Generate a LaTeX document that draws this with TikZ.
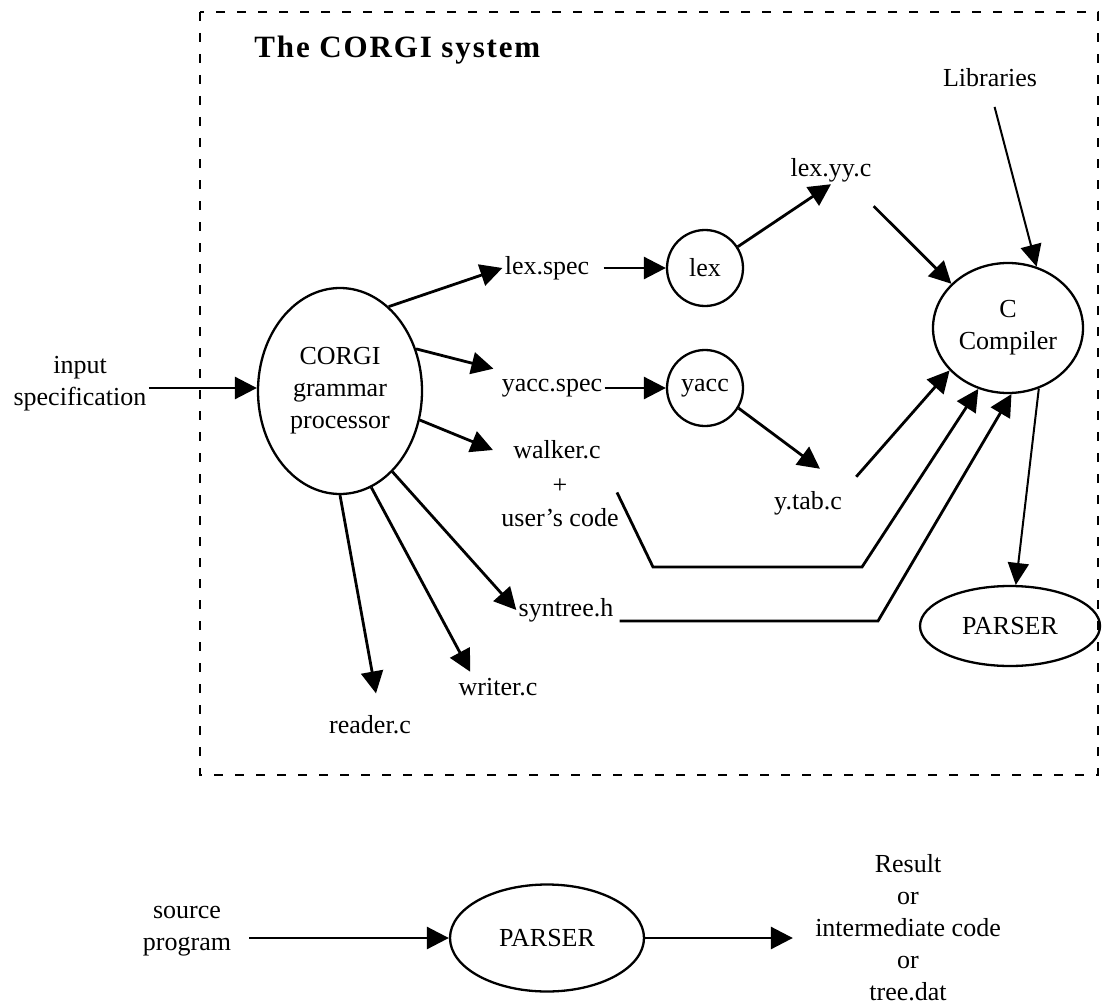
\documentclass[tikz,border=0pt]{standalone}
\usepackage{fontspec}
\setmainfont{Liberation Serif}
\usetikzlibrary{arrows.meta,calc,shapes.geometric}
\begin{document}
\begin{tikzpicture}[x=0.5pt,y=-0.5pt,
  every node/.style={font=\fontsize{13}{16}\selectfont, inner sep=1pt},
  lbl/.style={align=center},
  proc/.style={draw, ellipse, line width=1.15pt, inner sep=0pt, align=center},
  tool/.style={draw, circle, line width=1.15pt, inner sep=0pt, minimum size=38pt},
  arr/.style={line width=1.4pt, -{Triangle[length=11pt,width=11pt]}},
  thinarr/.style={line width=1pt, -{Triangle[length=11pt,width=10.5pt]}},
  boundary/.style={line width=1.4pt, dash pattern=on 4.5pt off 6pt},
]
\useasboundingbox (0,0) rectangle (1108,1006);

% system boundary
\draw[boundary] (200,12) rectangle (1098,775);
\node[anchor=west, font=\fontsize{15.5}{18}\selectfont\bfseries\addfontfeature{LetterSpace=6}] (title) at (252,50) {The CORGI system};

% processors and tools
\node[proc, minimum width=82pt, minimum height=103pt] (corgi) at (340,391) {CORGI\\grammar\\processor};
\node[tool] (lex) at (705,268) {lex};
\node[tool] (yacc) at (705,388) {yacc};
\node[proc, minimum width=75pt, minimum height=65pt] (compiler) at (1008,328) {C\\Compiler};
\node[proc, minimum width=90pt, minimum height=40pt] (parser) at (1010,626) {PARSER};

% files
\node[lbl] (input) at (80,384) {input\\specification};
\node (libs) at (990,78) {Libraries};
\node (lexyy) at (831,170) {lex.yy.c};
\node (lexspec) at (547,268) {lex.spec};
\node (yaccspec) at (552,388) {yacc.spec};
\node (walker) at (557,450) {walker.c};
\node (plus) at (560,486) {+};
\node (usercode) at (560,518) {user's code};
\node (ytab) at (808,503) {y.tab.c};
\node (syntree) at (566,610) {syntree.h};
\node (writer) at (498,687) {writer.c};
\node (reader) at (370,725) {reader.c};

% connectors inside the system
\draw[arr] (input.east |- 0,388) -- (corgi.west |- 0,388);
\draw[arr] (corgi.60) -- (lexspec.west);
\draw[arr] (corgi.29) -- ($(yaccspec.north west)+(-3pt,4pt)$);
\draw[arr] (corgi.-20) -- ($(walker.west)+(-9pt,0)$);
\draw[arr] (corgi.-57) -- (syntree.west);
\draw[arr] (corgi.-72) -- ($(writer.north west)+(7pt,2pt)$);
\draw[arr] (corgi.-90) -- ($(reader.north)+(3pt,10pt)$);
\draw[arr, shorten <=6pt] (lexspec.east) -- (lex.west);
\draw[arr] (yaccspec.east) -- (yacc.west);
\draw[arr] (lex.33) -- (lexyy.south);
\draw[arr] (yacc.-31) -- ($(ytab.north)+(6pt,10pt)$);
\draw[arr] ($(lexyy.south east)+(0,-11pt)$) -- (compiler.142);
\draw[thinarr, shorten <=9pt] (libs.south) -- (compiler.65);
\draw[arr] ($(ytab.north east)+(6pt,6pt)$) -- (compiler.216);
\draw[arr] ($(usercode.north east)+(-2pt,7pt)$) -- (653,567) -- (862,567) -- (compiler.244);
\draw[arr] ($(syntree.east)+(2pt,-5.5pt)$) -- (878,621) -- (compiler.273);
\draw[thinarr] (compiler.-63) -- (parser.82);

% using the generated parser
\node[lbl] (source) at (187,931) {source\\program};
\node[proc, minimum width=97pt, minimum height=53.5pt] (parser2) at (547,938) {PARSER};
\node[lbl] (result) at (908,928) {Result\\or\\intermediate code\\or\\tree.dat};
\draw[arr, shorten <=8pt] (source.east |- parser2.west) -- (parser2.west);
\draw[arr] (parser2.east) -- ($(result.west |- parser2.east)+(-10pt,0)$);
\end{tikzpicture}
\end{document}
